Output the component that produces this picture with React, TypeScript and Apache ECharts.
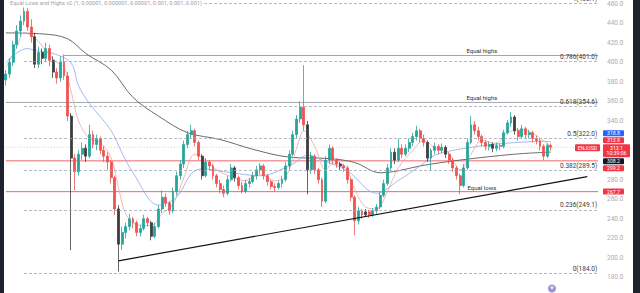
import React, { useEffect, useRef } from "react";
import * as echarts from "echarts";

const SYMBOL = "ENJUSD";
const INDICATOR_TITLE =
  "Equal Lows and Highs v2 (1, 0.00001, 0.000001, 0.00001, 0.001, 0.001, 0.001)";
const COUNTDOWN = "10:39:06";
const BAR_SLOTS = 164; // candles plus empty room on the right

// [open, close, low, high]
const ohlc: number[][] = [
  [382, 388, 376, 392], [388, 400, 384, 404], [400, 418, 396, 422], [418, 432, 414, 438],
  [432, 442, 426, 448], [442, 452, 438, 460.1], [452, 436, 432, 456], [436, 426, 420, 444],
  [426, 398, 394, 430], [398, 410, 394, 416], [410, 404, 398, 414], [404, 414, 400, 420],
  [414, 402, 396, 418], [402, 390, 384, 406], [390, 384, 378, 394], [384, 400, 380, 406],
  [400, 386, 382, 408], [386, 345, 340, 390], [345, 302, 208, 348], [302, 288, 269, 306],
  [288, 306, 284, 310], [306, 312, 300, 318], [312, 304, 298, 316], [304, 326, 302, 336],
  [326, 316, 312, 330], [316, 322, 310, 326], [322, 310, 306, 324], [310, 304, 298, 314],
  [304, 298, 290, 308], [298, 282, 276, 300], [282, 250, 244, 284], [250, 214, 186, 254],
  [214, 226, 208, 232], [226, 232, 220, 236], [232, 240, 228, 245], [240, 236, 230, 242],
  [236, 226, 222, 238], [226, 230, 222, 234], [230, 240, 228, 244], [240, 236, 232, 242],
  [236, 222, 218, 238], [222, 232, 220, 236], [232, 250, 230, 254], [250, 262, 246, 269],
  [262, 256, 252, 266], [256, 248, 244, 258], [248, 268, 246, 272], [268, 284, 264, 288],
  [284, 296, 280, 300], [296, 316, 292, 320], [316, 326, 312, 330], [326, 330, 322, 336],
  [330, 318, 314, 332], [318, 304, 300, 320], [304, 284, 280, 306], [284, 298, 282, 302],
  [298, 294, 290, 300], [294, 284, 280, 296], [284, 276, 272, 286], [276, 270, 266, 280],
  [270, 266, 262, 274], [266, 280, 264, 284], [280, 292, 278, 296], [292, 282, 278, 294],
  [282, 274, 270, 284], [274, 268, 266, 278], [268, 276, 266, 280], [276, 278, 272, 282],
  [278, 284, 276, 288], [284, 290, 280, 294], [290, 294, 286, 297], [294, 284, 280, 296],
  [284, 278, 274, 286], [278, 273, 270, 280], [273, 272, 268, 276], [272, 276, 270, 279],
  [276, 280, 272, 284], [280, 294, 278, 298], [294, 306, 290, 310], [306, 326, 304, 330],
  [326, 342, 322, 346], [342, 354, 338, 360], [354, 336, 330, 397], [336, 290, 265, 340],
  [290, 304, 286, 308], [304, 290, 286, 306], [290, 280, 276, 292], [280, 258, 252, 282],
  [258, 300, 256, 304], [300, 312, 296, 316], [312, 300, 296, 314], [300, 296, 292, 302],
  [296, 294, 290, 298], [294, 292, 288, 296], [292, 280, 276, 294], [280, 262, 258, 282],
  [262, 238, 223, 264], [238, 248, 234, 252], [248, 244, 240, 250], [244, 247, 242, 250],
  [247, 244, 241, 249], [244, 248, 242, 251], [248, 252, 245, 255], [252, 264, 250, 267],
  [264, 276, 262, 280], [276, 292, 274, 296], [292, 308, 290, 312], [308, 300, 296, 312],
  [300, 312, 298, 322], [312, 306, 302, 316], [306, 312, 304, 316], [312, 318, 308, 322],
  [318, 324, 314, 328], [324, 330, 320, 335], [330, 322, 318, 332], [322, 318, 314, 326],
  [318, 302, 298, 320], [302, 310, 289, 312], [310, 314, 306, 318], [314, 310, 306, 316],
  [310, 313, 307, 317], [313, 306, 302, 315], [306, 300, 296, 308], [300, 292, 288, 302],
  [292, 284, 280, 294], [284, 274, 265, 286], [274, 292, 272, 296], [292, 318, 290, 322],
  [318, 336, 316, 345], [336, 330, 326, 340], [330, 324, 320, 334], [324, 318, 314, 326],
  [318, 314, 310, 320], [314, 316, 310, 319], [316, 312, 308, 318], [312, 315, 309, 318],
  [315, 314, 310, 317], [314, 328, 312, 331], [328, 338, 326, 341], [338, 344, 334, 349],
  [344, 330, 326, 346], [330, 324, 320, 333], [324, 332, 322, 336], [332, 326, 322, 334],
  [326, 328, 322, 331], [328, 322, 318, 330], [322, 320, 316, 325], [320, 314, 310, 322],
  [314, 304, 300, 316], [304, 315, 302, 317], [315, 313.1, 310, 317],
];

// bars painted in the indicator's neutral shade
const shadedBars = [8, 10, 13, 18, 22, 31, 40, 54, 63, 83, 92, 99, 107, 116, 121, 134, 140];

// moving averages as [bar index, value]
const slowMa: number[][] = [
  [0, 430], [10, 429], [17, 424], [22, 409], [29, 392], [35, 364], [42, 345], [50, 328],
  [59, 321], [68, 311], [78, 303], [89, 301.5], [96, 297.5], [103, 287], [108, 289],
  [114, 294], [125, 300], [140, 306], [150, 308.2],
];
const midMa: number[][] = [
  [0, 399], [2, 407], [6, 414], [8, 412], [13, 409], [18, 399], [20, 376], [23, 358],
  [29, 330], [32, 307], [35, 287], [42, 254], [47, 262], [51, 286], [54, 291], [62, 287],
  [70, 284], [79, 296], [83, 305], [87, 300], [94, 289], [102, 266], [108, 279], [114, 294],
  [118, 305], [128, 313], [137, 317], [148, 319], [150, 318.8],
];
const fastMa: number[][] = [
  [0, 395], [3, 415], [5, 430], [8, 425], [11, 412], [14, 400], [16, 395], [18, 370],
  [20, 340], [23, 322], [26, 318], [29, 302], [31, 272], [33, 245], [36, 234], [40, 233],
  [43, 245], [46, 255], [49, 282], [52, 306], [55, 300], [58, 290], [62, 283], [66, 279],
  [70, 285], [74, 279], [77, 283], [80, 312], [82, 330], [85, 314], [88, 290], [90, 296],
  [93, 295], [96, 270], [99, 252], [102, 250], [105, 268], [108, 292], [112, 310],
  [115, 320], [118, 313], [122, 306], [125, 290], [128, 306], [131, 320], [135, 317],
  [138, 328], [142, 331], [146, 325], [150, 313.9],
];

const fibRatios = ["1", "0.786", "0.618", "0.5", "0.382", "0.236", "0"];
const fibValues = [460.1, 401.0, 354.6, 322.0, 289.5, 249.1, 184.0];
const FIB_START = 5;

const equalHighValues = [406.9, 358.9];
const equalHighStarts = [16, 0];
const equalLowValue = 267.7;
const supportLevels = [299.2, 267.7];
const trendPoints: number[][] = [[31, 197], [160, 283]];
const EQUAL_LABEL_BAR = 131;

const lastPrice = 313.1;
const tagValues = [318.8, 313.9, 308.2, 299.2, 267.7];
const tagColors = ["#2962ff", "#f23645", "#131722", "#f23645", "#f23645"];

const FONT = "Roboto, 'Liberation Sans', sans-serif";
const UP = "#26a69a";
const DOWN = "#ef5350";
const SHADE = "#3d3d40";

// the price pane runs a little past the visible frame on both edges
const VIEW_W = 640;
const VIEW_H = 293;
const PAD_TOP = 16.46;
const PAD_BOTTOM = 3.47;
const PANE_H = VIEW_H + PAD_TOP + PAD_BOTTOM;
const GRID_LEFT = 4;
const GRID_RIGHT = 40;
const Y_MIN = 160;
const Y_MAX = 480;

// same placement rules the grid uses, for annotations drawn on top of it
const valueToY = (v: number) => ((Y_MAX - v) / (Y_MAX - Y_MIN)) * PANE_H;
const slotToX = (i: number) =>
  GRID_LEFT + ((i + 0.5) * (VIEW_W - GRID_LEFT - GRID_RIGHT)) / BAR_SLOTS;

export default function App() {
  const ref = useRef<HTMLDivElement>(null);

  useEffect(() => {
    const chart = echarts.init(ref.current!, null, { renderer: "svg" });
    const categories = Array.from({ length: BAR_SLOTS }, (_, i) => String(i + 1));
    const lastSlot = BAR_SLOTS - 1;

    const candleData = ohlc.map((d, i) =>
      shadedBars.includes(i)
        ? {
            value: d,
            itemStyle: { color: SHADE, color0: SHADE, borderColor: SHADE, borderColor0: SHADE },
          }
        : d
    );

    // Fibonacci retracement levels with their captions
    const fibLines: any[] = fibValues.map((v, k) => [
      {
        coord: [FIB_START, v],
        lineStyle: { color: "#a5a8b0", type: [3, 2], width: 0.8 },
        label: {
          show: true,
          position: "insideEndTop",
          formatter: `${fibRatios[k]}(${v.toFixed(1)})`,
          color: "#3a3a3a",
          fontSize: 6.5,
          fontFamily: FONT,
          distance: 1,
        },
      },
      { coord: [lastSlot, v] },
    ]);

    // horizontal level drawn as a plain two-point line
    const levelSeries = (
      from: number,
      v: number,
      color: string,
      width: number,
      type: any,
      z: number
    ) => ({
      type: "line",
      data: [
        [from, v],
        [lastSlot, v],
      ],
      showSymbol: false,
      silent: true,
      z,
      lineStyle: { color, width, type },
    });

    const maLine = (data: number[][], color: string, width: number) => ({
      type: "line",
      data,
      smooth: 0.35,
      showSymbol: false,
      silent: true,
      z: 3,
      lineStyle: { color, width },
    });

    const T = PAD_TOP; // frame top inside the chart's canvas

    const graphics: any[] = [
      { type: "rect", shape: { x: 0, y: 0, width: 4, height: PANE_H }, style: { fill: "#1e222d" }, z: 100 },
      { type: "rect", shape: { x: 633, y: 0, width: 7, height: PANE_H }, style: { fill: "#1e222d" }, z: 100 },
      {
        type: "text",
        x: 8,
        y: T + 3,
        z: 60,
        style: {
          text: INDICATOR_TITLE,
          fontSize: 5.6,
          fontFamily: FONT,
          fill: "#a0a0a0",
          verticalAlign: "middle",
          backgroundColor: "#ffffff",
          padding: [1, 2],
        },
      },
    ];

    // "Equal highs" / "Equal lows" captions
    const captionX = slotToX(EQUAL_LABEL_BAR);
    equalHighValues.forEach((v) => {
      graphics.push({
        type: "text",
        x: captionX,
        y: valueToY(v) - 1.5,
        z: 60,
        style: { text: "Equal highs", fontSize: 6, fontFamily: FONT, fill: "#2f2f2f", align: "center", verticalAlign: "bottom" },
      });
    });
    graphics.push({
      type: "text",
      x: captionX,
      y: valueToY(equalLowValue) - 1.5,
      z: 60,
      style: { text: "Equal lows", fontSize: 6, fontFamily: FONT, fill: "#2f2f2f", align: "center", verticalAlign: "bottom" },
    });

    // price tags on the scale, stacked so they never overlap
    const TAG_X = 603;
    const TAG_W = 21;
    const TAG_H = 6;
    const GAP = 1;
    const TAG_FONT = 5.2;
    const mainY = valueToY(lastPrice);
    const mainTop = mainY - TAG_H / 2;
    const mainBottom = mainTop + 13;
    const tags = tagValues.map((v, k) => ({ v, color: tagColors[k], y: valueToY(v) }));
    const above = tags.filter((t) => t.v > lastPrice).sort((a, b) => a.v - b.v);
    const below = tags.filter((t) => t.v < lastPrice).sort((a, b) => b.v - a.v);
    let edge = mainTop;
    above.forEach((t) => {
      t.y = Math.min(t.y, edge - GAP - TAG_H / 2);
      edge = t.y - TAG_H / 2;
    });
    edge = mainBottom;
    below.forEach((t) => {
      t.y = Math.max(t.y, edge + GAP + TAG_H / 2);
      edge = t.y + TAG_H / 2;
    });
    const tagText = (x: number, y: number, text: string) => ({
      type: "text",
      x,
      y,
      z: 91,
      style: { text, fontSize: TAG_FONT, lineHeight: TAG_FONT + 0.4, fontFamily: FONT, fill: "#ffffff", align: "center", verticalAlign: "middle" },
    });
    const spans: number[][] = [[mainTop, mainBottom]];
    [...above, ...below].forEach((t) => {
      spans.push([t.y - TAG_H / 2, t.y + TAG_H / 2]);
      graphics.push({
        type: "rect",
        z: 90,
        shape: { x: TAG_X, y: t.y - TAG_H / 2, width: TAG_W, height: TAG_H, r: 1 },
        style: { fill: t.color },
      });
      graphics.push(tagText(TAG_X + TAG_W / 2, t.y, t.v.toFixed(1)));
    });
    graphics.push({
      type: "rect",
      z: 90,
      shape: { x: TAG_X, y: mainTop, width: 27, height: mainBottom - mainTop, r: 1 },
      style: { fill: "#f23645" },
    });
    graphics.push(tagText(TAG_X + 13.5, mainY + 3.3, `${lastPrice.toFixed(1)}\n${COUNTDOWN}`));
    graphics.push({
      type: "rect",
      z: 90,
      shape: { x: 575, y: mainTop, width: 25, height: 7, r: 1 },
      style: { fill: "#f23645" },
    });
    graphics.push(tagText(587.5, mainTop + 3.5, SYMBOL));

    // small badge at the bottom of the scale
    graphics.push({
      type: "circle",
      z: 60,
      shape: { cx: 552, cy: T + 288, r: 4 },
      style: { fill: "#9a8fd8" },
    });
    graphics.push({
      type: "circle",
      z: 61,
      shape: { cx: 552, cy: T + 287, r: 1.8 },
      style: { fill: "#d9d3f5" },
    });

    // scale labels that sit under a price tag stay hidden
    const underTag = (v: number) => {
      const y = valueToY(v);
      return spans.some(([a, b]) => y > a - 3 && y < b + 3);
    };

    chart.setOption({
      animation: false,
      backgroundColor: "#ffffff",
      grid: { left: GRID_LEFT, right: GRID_RIGHT, top: 0, bottom: 0 },
      xAxis: {
        type: "category",
        data: categories,
        boundaryGap: true,
        show: false,
      },
      yAxis: {
        type: "value",
        position: "right",
        min: Y_MIN,
        max: Y_MAX,
        interval: 20,
        axisLine: { show: false },
        axisTick: { show: false },
        splitLine: { show: false },
        axisLabel: {
          color: "#a9abb3",
          fontSize: 6.5,
          fontFamily: FONT,
          margin: 7,
          padding: [2, 0, 0, 0],
          showMinLabel: false,
          showMaxLabel: false,
          formatter: (v: number) => (underTag(v) ? "" : v.toFixed(1)),
        },
      },
      series: [
        ...equalHighValues.map((v, k) =>
          levelSeries(equalHighStarts[k], v, "#8c8f97", 0.8, "solid", 1)
        ),
        ...supportLevels.map((v) => levelSeries(0, v, "#f0545b", 0.9, "solid", 2)),
        levelSeries(0, lastPrice, "#dcaab0", 0.7, [1, 2], 1),
        {
          type: "candlestick",
          data: candleData,
          barWidth: 2.4,
          z: 4,
          itemStyle: {
            color: UP,
            color0: DOWN,
            borderColor: UP,
            borderColor0: DOWN,
            borderWidth: 0.8,
          },
          markLine: {
            silent: true,
            symbol: ["none", "none"],
            data: fibLines,
          },
        },
        maLine(slowMa, "#6b6b6b", 1),
        maLine(midMa, "#8fa6ea", 0.8),
        maLine(fastMa, "#f2a3aa", 0.8),
        {
          type: "line",
          data: trendPoints,
          showSymbol: false,
          silent: true,
          z: 5,
          lineStyle: { color: "#111111", width: 1.2 },
        },
      ],
      graphic: graphics,
    });

    return () => chart.dispose();
  }, []);

  return (
    <div
      style={{
        position: "fixed",
        left: 0,
        top: 0,
        width: VIEW_W,
        height: VIEW_H,
        overflow: "hidden",
        background: "#ffffff",
      }}
    >
      <div
        ref={ref}
        style={{
          position: "absolute",
          left: 0,
          top: -PAD_TOP,
          width: VIEW_W,
          height: PANE_H,
        }}
      />
    </div>
  );
}
